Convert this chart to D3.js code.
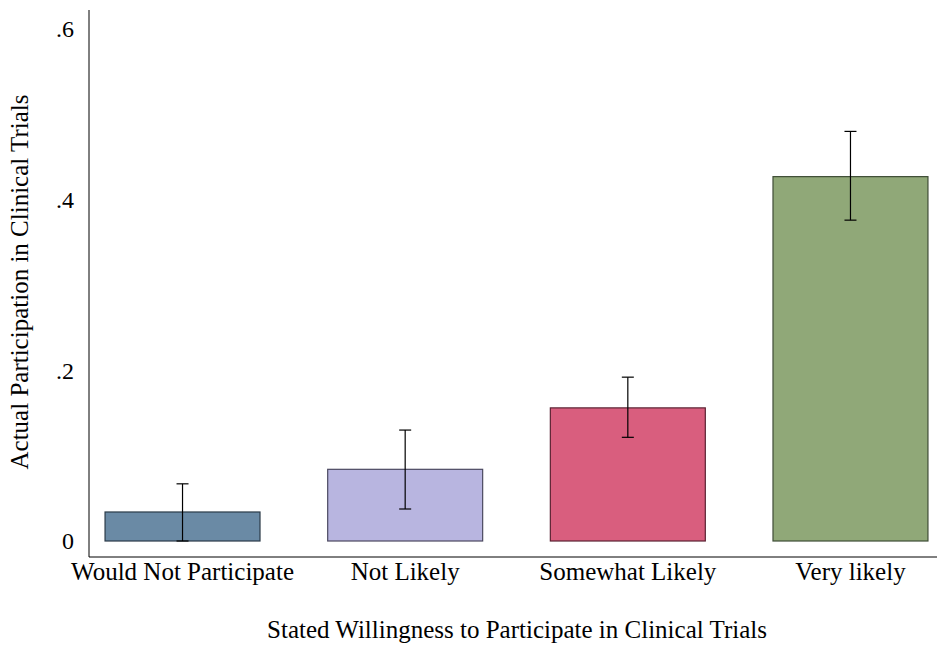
<!DOCTYPE html>
<html>
<head>
<meta charset="utf-8">
<script src="https://cdn.jsdelivr.net/npm/d3@7"></script>
<style>
  body { margin: 0; background: #fff; }
</style>
</head>
<body>
<div id="chart"></div>
<script>
// Data
const categories = ["Would Not Participate", "Not Likely", "Somewhat Likely", "Very likely"];
const means = [0.034, 0.084, 0.156, 0.427];
const ciLow = [0.0, 0.0375, 0.1215, 0.376];
const ciHigh = [0.067, 0.130, 0.192, 0.480];
const yTicks = [0, 0.2, 0.4, 0.6];
const yTickLabels = ["0", ".2", ".4", ".6"];

const fills = ["#6a8aa5", "#b8b5e0", "#d95e7e", "#90a878"];
const strokes = ["#2b3a48", "#4b4960", "#5a2232", "#3f4d36"];

const width = 938, height = 648;
const font = "'Liberation Serif', 'DejaVu Serif', serif";

const svg = d3.select("#chart")
    .append("svg")
    .attr("width", width)
    .attr("height", height)
    .attr("font-family", font);

// Scales
const x = d3.scaleBand()
    .domain(categories)
    .range([71.2, 961.8])
    .paddingInner(0.304)
    .paddingOuter(0.152);

const y = d3.scaleLinear()
    .domain([0, 0.6])
    .range([541, 29]);

// Axis lines (left and bottom only)
svg.append("line")
    .attr("x1", 89).attr("x2", 89)
    .attr("y1", 10).attr("y2", 557)
    .attr("stroke", "#000").attr("stroke-width", 1);

svg.append("line")
    .attr("x1", 89).attr("x2", 937)
    .attr("y1", 557).attr("y2", 557)
    .attr("stroke", "#000").attr("stroke-width", 1);

// Y tick labels
svg.append("g")
    .selectAll("text")
    .data(yTicks)
    .enter()
    .append("text")
    .attr("x", 74)
    .attr("y", d => y(d))
    .attr("dy", "0.35em")
    .attr("text-anchor", "end")
    .style("font-size", "24px")
    .text((d, i) => yTickLabels[i]);

// Bars
svg.append("g")
    .selectAll("rect")
    .data(means)
    .enter()
    .append("rect")
    .attr("x", (d, i) => x(categories[i]))
    .attr("y", d => y(d))
    .attr("width", x.bandwidth())
    .attr("height", d => y(0) - y(d))
    .attr("fill", (d, i) => fills[i])
    .attr("stroke", (d, i) => strokes[i])
    .attr("stroke-width", 1.2);

// Error bars
const err = svg.append("g")
    .selectAll("g")
    .data(categories)
    .enter()
    .append("g")
    .attr("stroke", "#000")
    .attr("stroke-width", 1.2);

const cx = d => x(d) + x.bandwidth() / 2;
err.append("line")
    .attr("x1", cx).attr("x2", cx)
    .attr("y1", (d, i) => y(ciLow[i]))
    .attr("y2", (d, i) => y(ciHigh[i]));
err.append("line")
    .attr("x1", d => cx(d) - 6).attr("x2", d => cx(d) + 6)
    .attr("y1", (d, i) => y(ciHigh[i]))
    .attr("y2", (d, i) => y(ciHigh[i]));
err.append("line")
    .attr("x1", d => cx(d) - 6).attr("x2", d => cx(d) + 6)
    .attr("y1", (d, i) => y(ciLow[i]))
    .attr("y2", (d, i) => y(ciLow[i]));

// Category labels
svg.append("g")
    .selectAll("text")
    .data(categories)
    .enter()
    .append("text")
    .attr("x", cx)
    .attr("y", 580)
    .attr("text-anchor", "middle")
    .style("font-size", "25px")
    .text(d => d);

// X axis title
svg.append("text")
    .attr("x", 517)
    .attr("y", 638)
    .attr("text-anchor", "middle")
    .style("font-size", "25px")
    .text("Stated Willingness to Participate in Clinical Trials");

// Y axis title
svg.append("text")
    .attr("transform", "translate(28, 282) rotate(-90)")
    .attr("text-anchor", "middle")
    .style("font-size", "25px")
    .text("Actual Participation in Clinical Trials");
</script>
</body>
</html>
